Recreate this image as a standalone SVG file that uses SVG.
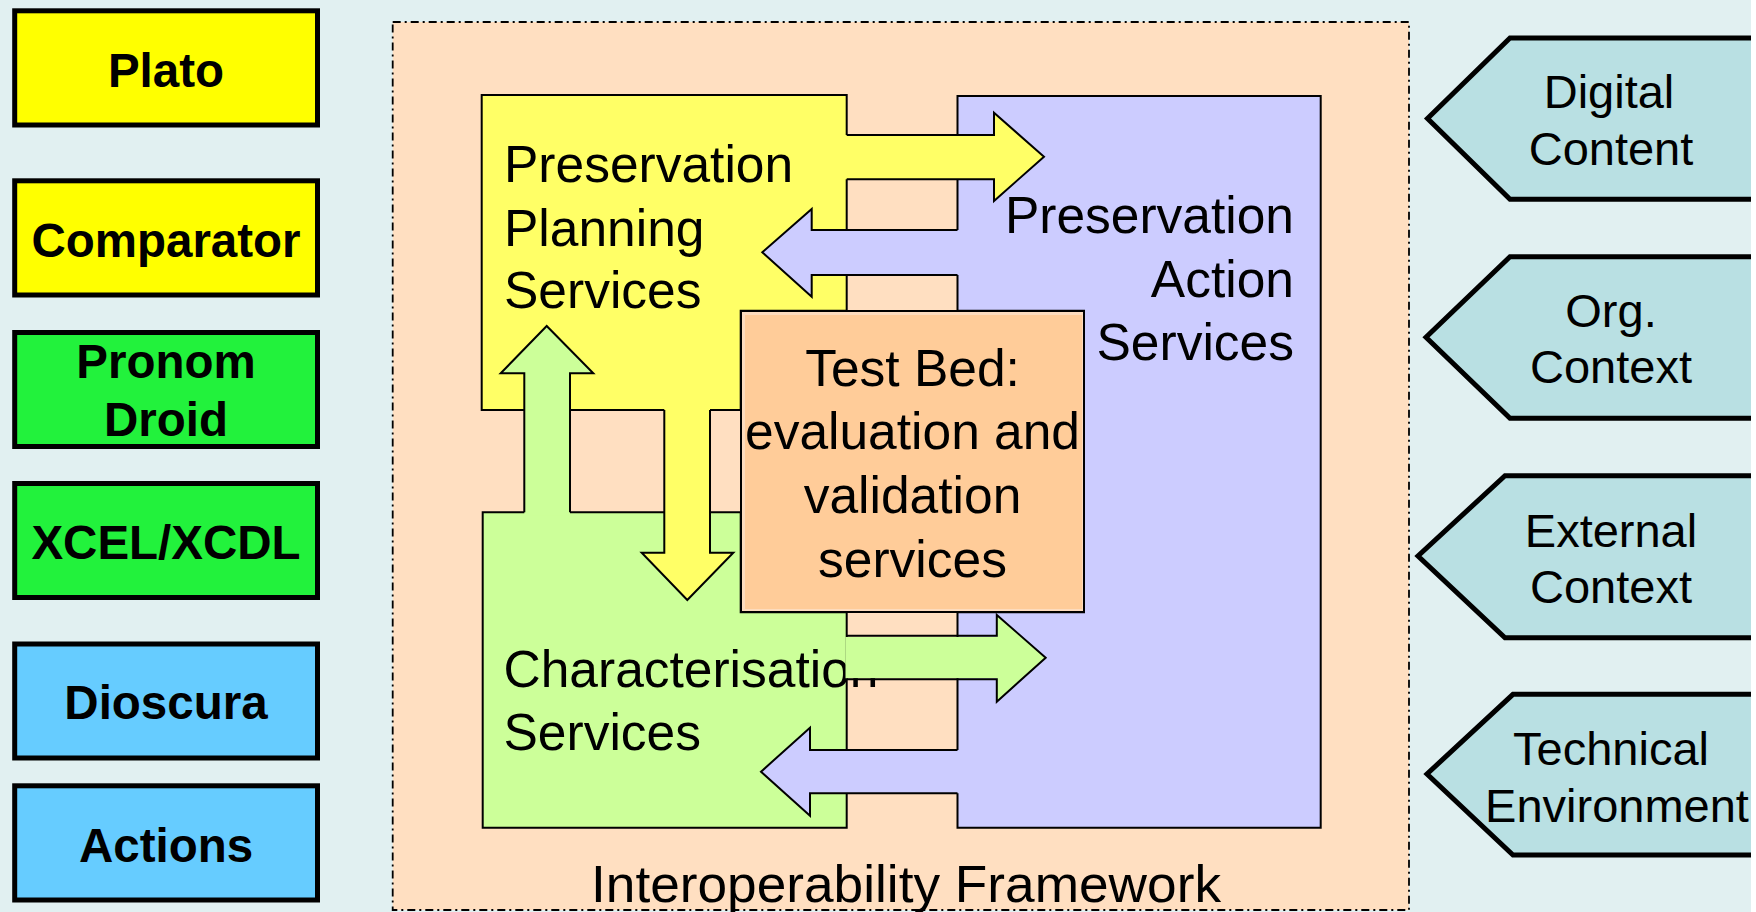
<svg xmlns="http://www.w3.org/2000/svg" width="1756" height="912" viewBox="0 0 1756 912">
<defs>
<style>
.tool{stroke:#000;stroke-width:5}
.tl{font-family:"Liberation Sans",Arial,sans-serif;font-weight:bold;font-size:47.5px;fill:#000;text-anchor:middle}
.ctx{fill:#B9E0E3;stroke:#000;stroke-width:5;stroke-linejoin:miter}
.ct{font-family:"Liberation Sans",Arial,sans-serif;font-size:47px;fill:#000;text-anchor:middle}
.box{stroke:#000;stroke-width:2;stroke-linejoin:miter}
.bt{font-family:"Liberation Sans",Arial,sans-serif;font-size:51.5px;fill:#000}
.edge{fill:none;stroke:#000;stroke-width:2;stroke-linejoin:miter}
.y{fill:#FFFF66}.g{fill:#CCFF99}.b{fill:#CCCCFF}
</style>
</defs>
<rect x="0" y="0" width="1756" height="912" fill="#E1F0F1"/>

<g id="frame">
<rect x="392.7" y="22" width="1016.3" height="888" fill="#FFDFC1" stroke="#000" stroke-width="1.8" stroke-dasharray="8 4 2 4"/>
<text class="bt" x="906" y="901.7" text-anchor="middle" font-size="54" textLength="630" lengthAdjust="spacingAndGlyphs">Interoperability Framework</text>
</g>

<g id="tools">
<g id="plato"><rect class="tool" x="14.7" y="10.8" width="302.8" height="114.2" fill="#FFFF00"/><text class="tl" x="166" y="86.7">Plato</text></g>
<g id="comparator"><rect class="tool" x="14.7" y="180.8" width="302.8" height="114.2" fill="#FFFF00"/><text class="tl" x="166" y="256.7">Comparator</text></g>
<g id="pronom"><rect class="tool" x="14.7" y="332.5" width="302.8" height="114" fill="#22F23C"/><text class="tl" x="166" y="378.3">Pronom</text><text class="tl" x="166" y="435.7">Droid</text></g>
<g id="xcel"><rect class="tool" x="14.7" y="483.5" width="302.8" height="114" fill="#22F23C"/><text class="tl" x="166" y="559.3">XCEL/XCDL</text></g>
<g id="dioscura"><rect class="tool" x="14.7" y="644" width="302.8" height="114" fill="#66CCFF"/><text class="tl" x="166" y="719.3">Dioscura</text></g>
<g id="actions"><rect class="tool" x="14.7" y="785.8" width="302.8" height="114.2" fill="#66CCFF"/><text class="tl" x="166" y="861.7">Actions</text></g>
</g>

<g id="planning">
<path class="box y" d="M481.7,95 H846.7 V310.7 H740.7 V410 H481.7 Z"/>
<text class="bt" x="504" y="181.7">Preservation</text>
<text class="bt" x="504" y="246">Planning</text>
<text class="bt" x="504" y="308.3">Services</text>
</g>

<g id="characterisation">
<path class="box g" d="M482.7,512.3 H740.7 V612.3 H846.7 V827.7 H482.7 Z"/>
<text class="bt" x="503.5" y="686.7">Characterisation</text>
<text class="bt" x="503.5" y="750">Services</text>
</g>

<g id="action">
<path class="box b" d="M957.5,96 H1320.7 V827.7 H957.5 V612.3 H1084 V310.7 H957.5 Z"/>
<text class="bt" x="1294" y="233.3" text-anchor="end">Preservation</text>
<text class="bt" x="1294" y="296.7" text-anchor="end">Action</text>
<text class="bt" x="1294" y="360" text-anchor="end">Services</text>
</g>

<g id="testbed">
<rect x="741" y="311" width="343" height="301" fill="#FDDCBE" stroke="#000" stroke-width="2"/>
<rect x="745" y="315" width="337" height="294" fill="#FFCC99"/>
<text class="bt" x="912.5" y="386" text-anchor="middle" font-size="53">Test Bed:</text>
<text class="bt" x="912.5" y="449.3" text-anchor="middle" font-size="53">evaluation and</text>
<text class="bt" x="912.5" y="513.3" text-anchor="middle" font-size="53">validation</text>
<text class="bt" x="912.5" y="577.3" text-anchor="middle" font-size="53">services</text>
</g>

<g id="connectors">
<path class="y" d="M843,135 H994 V112.7 L1044,156.7 L994,201 V179.3 H843 Z"/>
<path class="edge" d="M846.7,135 H994 V112.7 L1044,156.7 L994,201 V179.3 H846.7"/>
<path class="b" d="M961,230 H811.7 V209 L762.3,252.3 L811.7,296.7 V275 H961 Z"/>
<path class="edge" d="M957.5,230 H811.7 V209 L762.3,252.3 L811.7,296.7 V275 H957.5"/>
<path class="y" d="M664.3,407 V552.7 H641.7 L687.3,600 L733.3,552.7 H710 V407 Z"/>
<path class="edge" d="M664.3,410 V552.7 H641.7 L687.3,600 L733.3,552.7 H710 V410"/>
<path class="g" d="M524.3,515.3 V373.3 H500.7 L546.7,326 L593.3,373.3 H570 V515.3 Z"/>
<path class="edge" d="M524.3,512.3 V373.3 H500.7 L546.7,326 L593.3,373.3 H570 V512.3"/>
<path class="g" d="M845.5,637 H996.8 V615 L1045.7,657.7 L996.8,701.7 V678.3 H845.5 Z"/>
<path class="edge" d="M846.7,635.7 H996.8 V615 L1045.7,657.7 L996.8,701.7 V679.3 H846.7"/>
<path class="b" d="M961,750 H810 V727.7 L761,771.7 L810,815.7 V793.3 H961 Z"/>
<path class="edge" d="M957.5,750 H810 V727.7 L761,771.7 L810,815.7 V793.3 H957.5"/>
</g>

<g id="contexts">
<g id="digital"><path class="ctx" d="M1760,38 H1510 L1427.5,118.5 L1510,199.3 H1760"/><text class="ct" x="1609" y="108.3">Digital</text><text class="ct" x="1611" y="165">Content</text></g>
<g id="org"><path class="ctx" d="M1760,256.7 H1510 L1426,337.3 L1510,418.3 H1760"/><text class="ct" x="1611" y="326.7">Org.</text><text class="ct" x="1611" y="383.3">Context</text></g>
<g id="external"><path class="ctx" d="M1760,475.7 H1505 L1418,556 L1505,637.7 H1760"/><text class="ct" x="1611" y="546.7">External</text><text class="ct" x="1611" y="603.3">Context</text></g>
<g id="technical"><path class="ctx" d="M1760,694.3 H1513 L1427,774 L1513,855 H1760"/><text class="ct" x="1611" y="765">Technical</text><text class="ct" x="1617" y="821.7">Environment</text></g>
</g>
<rect x="1751" y="0" width="5" height="912" fill="#FFFFFF"/>
</svg>
